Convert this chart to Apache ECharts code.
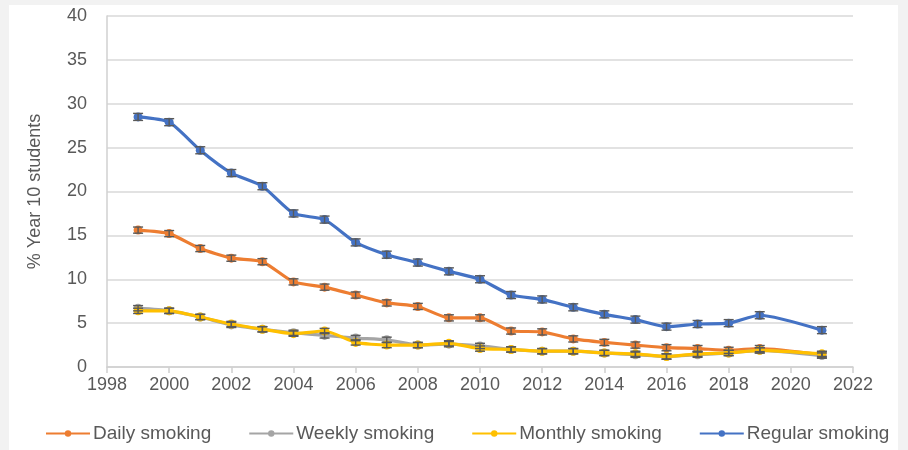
<!DOCTYPE html>
<html>
<head>
<meta charset="utf-8">
<script src="https://cdn.jsdelivr.net/npm/echarts@6/dist/echarts.min.js"></script>
<style>
  html, body { margin: 0; padding: 0; background: #f2f2f2; }
  #chart { position: absolute; left: 9px; top: 5px; width: 889px; height: 445px; background: #ffffff; }
</style>
</head>
<body>
<div id="chart"></div>
<script>
// Survey years (no survey in 2020)
const years = [1999, 2000, 2001, 2002, 2003, 2004, 2005, 2006, 2007, 2008, 2009, 2010,
               2011, 2012, 2013, 2014, 2015, 2016, 2017, 2018, 2019, 2021];

// % of Year 10 students
const dailySmoking   = [15.6, 15.2, 13.5, 12.4, 12.0, 9.7, 9.1, 8.2, 7.3, 6.9, 5.6, 5.6,
                        4.1, 4.0, 3.2, 2.8, 2.5, 2.2, 2.1, 1.9, 2.1, 1.4];
const weeklySmoking  = [6.7, 6.4, 5.7, 4.8, 4.3, 3.9, 3.6, 3.3, 3.1, 2.5, 2.6, 2.4,
                        2.0, 1.8, 1.8, 1.6, 1.4, 1.2, 1.4, 1.6, 1.9, 1.3];
const monthlySmoking = [6.4, 6.4, 5.7, 4.9, 4.3, 3.8, 4.1, 2.8, 2.5, 2.5, 2.7, 2.1,
                        2.0, 1.8, 1.8, 1.6, 1.5, 1.2, 1.5, 1.6, 1.9, 1.5];
const regularSmoking = [28.5, 27.9, 24.7, 22.1, 20.6, 17.5, 16.8, 14.2, 12.8, 11.9, 10.9, 10.0,
                        8.2, 7.7, 6.8, 6.0, 5.4, 4.6, 4.9, 5.0, 5.9, 4.2];

// Half-width of the 95% confidence interval shown as error bars
const dailyErr = 0.35, weeklyErr = 0.3, monthlyErr = 0.3, regularErr = 0.4;

// Axis ticks
const xMin = 1998, xMax = 2022, xStep = 2;
const yMin = 0, yMax = 40, yStep = 5;

const seriesNames  = ['Daily smoking', 'Weekly smoking', 'Monthly smoking', 'Regular smoking'];
const seriesValues = [dailySmoking, weeklySmoking, monthlySmoking, regularSmoking];
const seriesErrors = [dailyErr, weeklyErr, monthlyErr, regularErr];
const seriesColors = ['#ED7D31', '#A5A5A5', '#FFC000', '#4472C4'];

const font = 'Liberation Sans';
const textGrey = '#595959';

const lineSeries = seriesNames.map((name, i) => ({
  name,
  type: 'line',
  data: years.map((y, k) => [y, seriesValues[i][k]]),
  smooth: 0.2,
  symbol: 'circle',
  symbolSize: 9,
  lineStyle: { width: 3.2, color: seriesColors[i] },
  itemStyle: { color: seriesColors[i] },
  z: 3,
  animation: false
}));

const errorSeries = seriesNames.map((name, i) => ({
  type: 'custom',
  data: years.map((y, k) => [y, seriesValues[i][k], seriesErrors[i]]),
  renderItem: function (params, api) {
    const x = api.value(0), v = api.value(1), e = api.value(2);
    const hi = api.coord([x, v + e]);
    const lo = api.coord([x, v - e]);
    const cap = 5;
    const st = { stroke: '#595959', lineWidth: 1.4 };
    return {
      type: 'group',
      children: [
        { type: 'line', shape: { x1: hi[0], y1: hi[1], x2: lo[0], y2: lo[1] }, style: st },
        { type: 'line', shape: { x1: hi[0] - cap, y1: hi[1], x2: hi[0] + cap, y2: hi[1] }, style: st },
        { type: 'line', shape: { x1: lo[0] - cap, y1: lo[1], x2: lo[0] + cap, y2: lo[1] }, style: st }
      ]
    };
  },
  z: 4,
  silent: true,
  animation: false
}));

const chart = echarts.init(document.getElementById('chart'));
chart.setOption({
  animation: false,
  backgroundColor: '#ffffff',
  grid: { left: 98, right: 45, top: 11, bottom: 83 },
  legend: {
    data: seriesNames,
    left: 31,
    bottom: 2,
    itemWidth: 44,
    itemHeight: 8,
    itemGap: 37,
    textStyle: { fontFamily: font, fontSize: 19, color: textGrey, padding: [0, 0, 0, -2] }
  },
  xAxis: {
    type: 'value',
    min: xMin, max: xMax, interval: xStep,
    axisLine: { show: true, lineStyle: { color: '#d0d0d0', width: 1.5 } },
    axisTick: { show: true, length: 6, inside: false, lineStyle: { color: '#d0d0d0', width: 1.5 } },
    axisLabel: { fontFamily: font, fontSize: 18, color: textGrey, margin: 9,
                 formatter: v => String(v) },
    splitLine: { show: false }
  },
  yAxis: {
    type: 'value',
    min: yMin, max: yMax, interval: yStep,
    name: '% Year 10 students',
    nameLocation: 'middle',
    nameGap: 63,
    nameTextStyle: { fontFamily: font, fontSize: 18, color: textGrey },
    axisLine: { show: true, lineStyle: { color: '#d0d0d0', width: 1.5 } },
    axisTick: { show: false },
    axisLabel: { fontFamily: font, fontSize: 18, color: textGrey, margin: 20 },
    splitLine: { lineStyle: { color: '#d9d9d9', width: 1.5 } }
  },
  series: [...lineSeries, ...errorSeries]
});
</script>
</body>
</html>
